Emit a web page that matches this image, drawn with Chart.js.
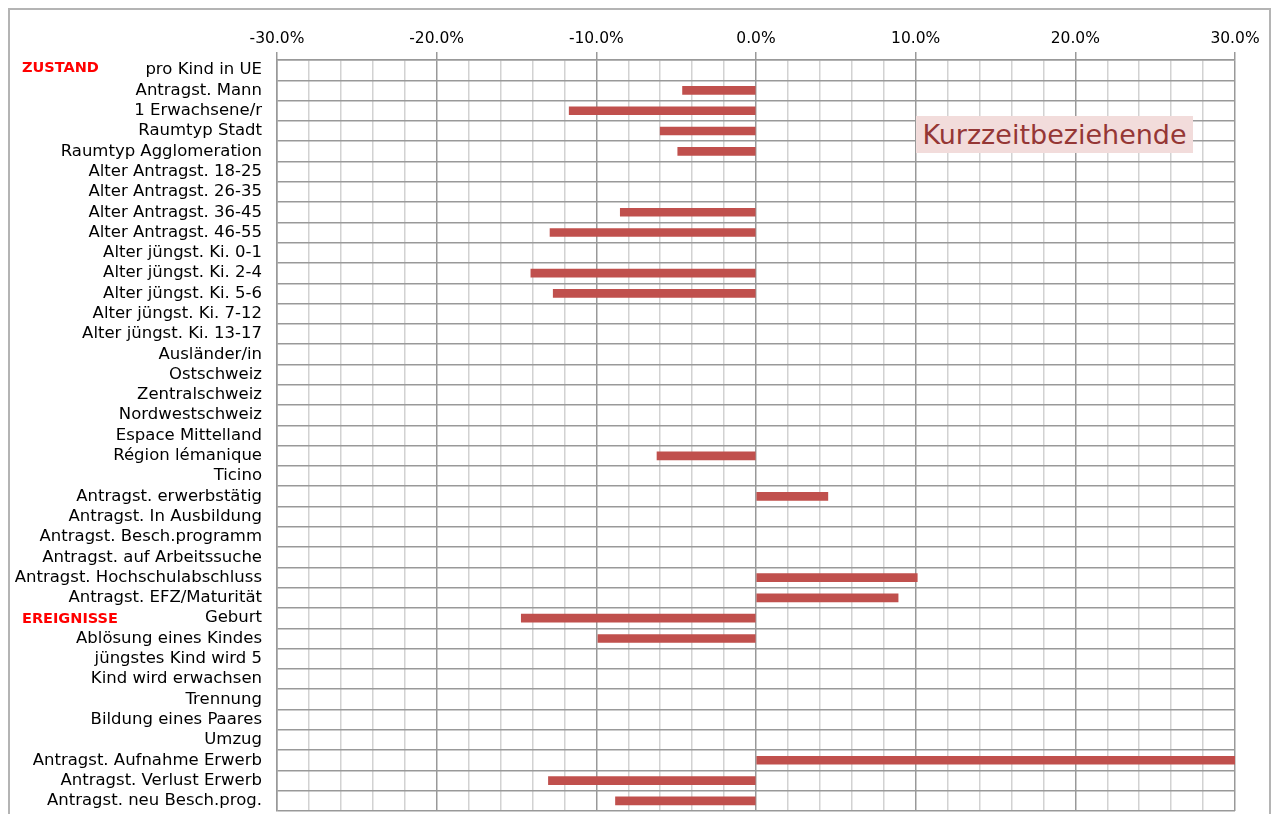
<!DOCTYPE html>
<html>
<head>
<meta charset="utf-8">
<script src="https://cdn.jsdelivr.net/npm/chart.js@4"></script>
<style>
  body { margin: 0; background: #fff; }
  #wrap { position: relative; width: 1274px; height: 814px; overflow: hidden; }
  #frame { position: absolute; left: 8px; top: 8px; width: 1259px; height: 820px; border: 2px solid #b4b4b4; }
  .section { position: absolute; left: 22px; font: bold 14.5px "DejaVu Sans", sans-serif; color: #ff0000; }
  #note { position: absolute; left: 916px; top: 116px; width: 277px; height: 37px; background: #f2dcdb;
          color: #953735; font: 27px "DejaVu Sans", sans-serif; line-height: 37px; text-align: center; }
</style>
</head>
<body>
<div id="wrap">
  <div id="frame"></div>
  <canvas id="myChart" width="1274" height="814"></canvas>
  <div class="section" style="top:59px">ZUSTAND</div>
  <div class="section" style="top:610px">EREIGNISSE</div>
  <div id="note">Kurzzeitbeziehende</div>
</div>
<script>
// categories (top to bottom)
const categories = [
  "pro Kind in UE", "Antragst. Mann", "1 Erwachsene/r", "Raumtyp Stadt", "Raumtyp Agglomeration",
  "Alter Antragst. 18-25", "Alter Antragst. 26-35", "Alter Antragst. 36-45", "Alter Antragst. 46-55",
  "Alter jüngst. Ki. 0-1", "Alter jüngst. Ki. 2-4", "Alter jüngst. Ki. 5-6", "Alter jüngst. Ki. 7-12",
  "Alter jüngst. Ki. 13-17", "Ausländer/in", "Ostschweiz", "Zentralschweiz", "Nordwestschweiz",
  "Espace Mittelland", "Région lémanique", "Ticino", "Antragst. erwerbstätig", "Antragst. In Ausbildung",
  "Antragst. Besch.programm", "Antragst. auf Arbeitssuche", "Antragst. Hochschulabschluss",
  "Antragst. EFZ/Maturität", "Geburt", "Ablösung eines Kindes", "jüngstes Kind wird 5",
  "Kind wird erwachsen", "Trennung", "Bildung eines Paares", "Umzug", "Antragst. Aufnahme Erwerb",
  "Antragst. Verlust Erwerb", "Antragst. neu Besch.prog."
];

// effect in percent (null = no bar)
const values = [
  null, -4.6, -11.7, -6.0, -4.9,
  null, null, -8.5, -12.9,
  null, -14.1, -12.7, null,
  null, null, null, null, null,
  null, -6.2, null, 4.5, null,
  null, null, 10.1,
  8.9, -14.7, -9.9, null,
  null, null, null, null, 30.0,
  -13.0, -8.8
];

const xMin = -30;
const xMax = 30;
const xStep = 2;

const labelFont = { family: "DejaVu Sans", size: 16.5 };
const tickFont = { family: "DejaVu Sans", size: 15.5 };

const isMajor = (c) => c.tick && c.tick.value % 10 === 0;

const ctx = document.getElementById('myChart');
const myChart = new Chart(ctx, {
  type: 'bar',
  data: {
    labels: categories,
    datasets: [{
      data: values,
      backgroundColor: '#c0504d',
      barThickness: 8
    }]
  },
  options: {
    indexAxis: 'y',
    responsive: false,
    animation: false,
    layout: { padding: { left: 0, right: 39, top: 0, bottom: 3 } },
    plugins: { legend: { display: false }, tooltip: { enabled: false } },
    scales: {
      x: {
        position: 'top',
        min: xMin,
        max: xMax,
        ticks: {
          stepSize: xStep,
          autoSkip: false,
          maxRotation: 0,
          padding: 4,
          color: '#000',
          font: tickFont,
          callback: (v) => (v % 10 === 0 ? v.toFixed(1) + '%' : '')
        },
        grid: {
          color: (c) => (isMajor(c) ? '#999999' : '#d2d2d2'),
          lineWidth: 1.5,
          tickColor: (c) => (isMajor(c) ? '#999999' : 'rgba(0,0,0,0)'),
          tickLength: 8
        },
        border: { color: '#999999', width: 1.5 },
        afterFit: (scale) => { scale.height = 60; }
      },
      y: {
        ticks: {
          autoSkip: false,
          padding: 15,
          color: '#000',
          font: labelFont
        },
        grid: {
          color: '#999999',
          lineWidth: 1.5,
          drawTicks: false
        },
        border: { color: '#999999', width: 1.5 },
        afterFit: (scale) => {
          scale.width = 277;
          scale.paddingTop = 0;
          scale.paddingBottom = 0;
        }
      }
    }
  }
});
</script>
</body>
</html>
